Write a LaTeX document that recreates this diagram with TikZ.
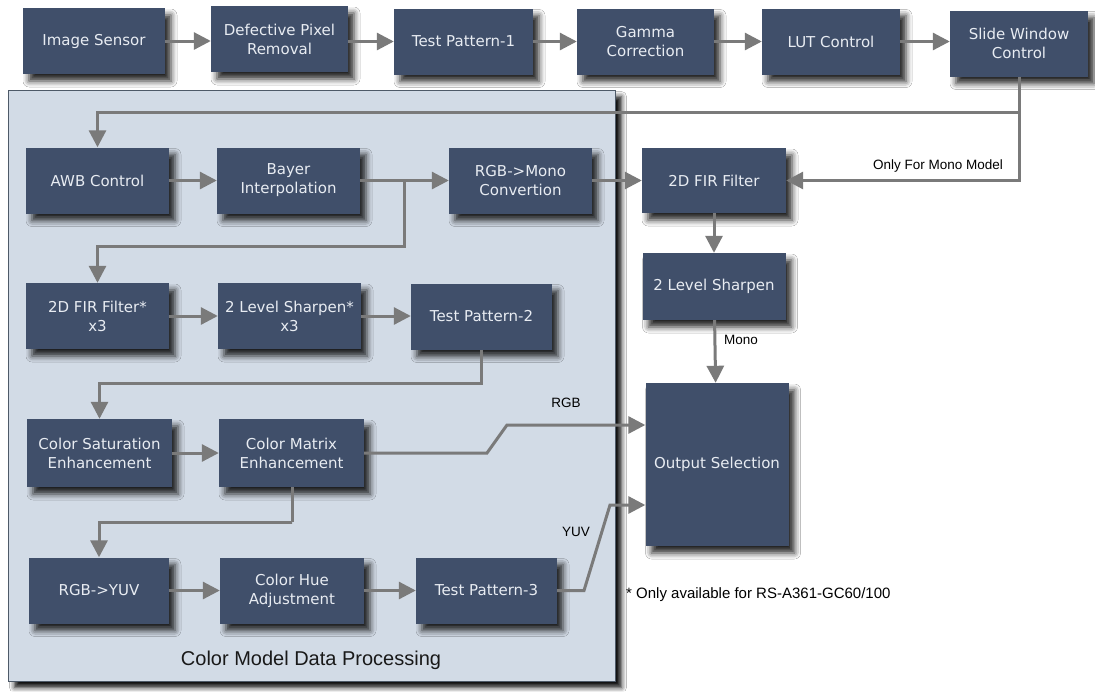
\documentclass[tikz,border=0pt]{standalone}
\usepackage{fontspec}
\setmainfont{DejaVu Sans}
\newfontfamily\labelfont{Liberation Sans}
\usetikzlibrary{arrows.meta,shadows.blur}
\definecolor{boxblue}{HTML}{404F6A}
\definecolor{boxtext}{HTML}{E8ECF2}
\definecolor{panelfill}{HTML}{D2DBE6}
\definecolor{panelline}{HTML}{4E5A68}
\definecolor{wiregray}{HTML}{7A7A7A}
\begin{document}
\begin{tikzpicture}[x=1pt,y=-1pt,
  block/.style={fill=boxblue, text=boxtext, minimum width=142pt, minimum height=66pt,
    align=center, inner sep=2pt, font=\fontsize{15}{19}\selectfont,
    blur shadow={shadow xshift=6pt, shadow yshift=-7pt, shadow blur radius=6pt, shadow opacity=85}},
  flow/.style={draw=wiregray, line width=3pt, -{Triangle[length=17pt,width=17pt]}},
  tag/.style={font=\labelfont\fontsize{13.5}{15}\selectfont, text=black, inner sep=0pt}]
\useasboundingbox (0,0) rectangle (1095,691);
\fill[white] (0,0) rectangle (1095,691);

% colour processing panel
\node[draw=panelline, line width=1pt, fill=panelfill, minimum width=607pt, minimum height=591pt,
  inner sep=0pt, anchor=north west,
  blur shadow={shadow xshift=6pt, shadow yshift=-6pt, shadow blur radius=5pt, shadow opacity=95}]
  (panel) at (8,90) {};
\node[font=\labelfont\fontsize{20}{24}\selectfont, text=black!90] (ptitle) at (311,660) {Color Model Data Processing};

% sensor pipeline
\node[block] (sensor) at (94,41) {Image Sensor};
\node[block, minimum width=137pt] (dpr) at (279.5,39) {Defective Pixel\\Removal};
\node[block, minimum width=139pt] (tp1) at (463.5,41.5) {Test Pattern-1};
\node[block, minimum width=137pt] (gamma) at (645.5,41.5) {Gamma\\Correction};
\node[block, minimum width=138pt] (lut) at (831,41.5) {LUT Control};
\node[block, minimum width=138pt] (swc) at (1019,43.5) {Slide Window\\Control};

% colour path
\node[block, minimum width=143pt] (awb) at (97.5,180.5) {AWB Control};
\node[block, minimum width=143pt] (bayer) at (288.5,180.5) {Bayer\\Interpolation};
\node[block, minimum width=143pt] (mono) at (520.5,180.5) {RGB->Mono\\Convertion};
\node[block, minimum width=143pt] (fir3) at (97.5,316) {2D FIR Filter*\\x3};
\node[block, minimum width=143pt] (sharp3) at (289.5,316) {2 Level Sharpen*\\x3};
\node[block, minimum width=141pt] (tp2) at (481.5,316.5) {Test Pattern-2};
\node[block, minimum width=145pt, minimum height=68pt] (csat) at (99.5,453) {Color Saturation\\Enhancement};
\node[block, minimum width=145pt, minimum height=68pt] (cmat) at (291.5,453) {Color Matrix\\Enhancement};
\node[block, minimum width=140pt] (yuv) at (99,590.5) {RGB->YUV};
\node[block, minimum width=144pt] (hue) at (292,590.5) {Color Hue\\Adjustment};
\node[block, minimum width=141pt] (tp3) at (486.5,590.5) {Test Pattern-3};

% mono path and output
\node[block, minimum width=144pt, minimum height=65pt] (fir) at (714,180.5) {2D FIR Filter};
\node[block, minimum width=143pt, minimum height=67pt] (sharp) at (714,286.5) {2 Level Sharpen};
\node[block, minimum width=143pt, minimum height=163pt] (out) at (717,464.5) {Output Selection};

% junctions and bends
\coordinate (j1) at (1019,112);
\coordinate (j2) at (404,180.5);
\coordinate (j3) at (404,246);
\coordinate (j4) at (481.5,383);
\coordinate (j5) at (292,522);
\coordinate (r1) at (487,453);
\coordinate (r2) at (507,425);
\coordinate (y1) at (584,590.5);
\coordinate (y2) at (610,505);

% connectors
\draw[flow] (sensor) -- (dpr.west |- sensor);
\draw[flow] (dpr.east |- tp1) -- (tp1);
\draw[flow] (tp1) -- (gamma);
\draw[flow] (gamma) -- (lut);
\draw[flow] (lut) -- (swc.west |- lut);
\draw[flow] (swc.south) -- (j1) -| (awb.north);
\draw[flow] (j1) |- (fir.east);
\draw[flow] (awb) -- (bayer);
\draw[flow] (bayer) -- (mono);
\draw[flow] (j2) -- (j3) -| (fir3.north);
\draw[flow] (mono) -- (fir);
\draw[flow] (fir) -- (sharp);
\draw[flow] (sharp) -- (out);
\draw[flow] (fir3) -- (sharp3);
\draw[flow] (sharp3) -- (tp2.west |- sharp3);
\draw[flow] (tp2.south) -- (j4) -| (csat.north);
\draw[flow] (csat) -- (cmat);
\draw[flow] (cmat.east) -- (r1) -- (r2) -- (r2 -| out.west);
\draw[flow] (cmat.south |- j5) -- (j5) -| (yuv.north);
\draw[line width=3pt, draw=wiregray] (cmat.south -| j5) -- (j5);
\draw[flow] (yuv) -- (hue);
\draw[flow] (hue) -- (tp3);
\draw[flow] (tp3.east) -- (y1) -- (y2) -- (y2 -| out.west);

% labels
\node[tag] (lmono) at (938,166) {Only For Mono Model};
\node[tag] (lm) at (741,340) {Mono};
\node[tag] (lrgb) at (566,403) {RGB};
\node[tag] (lyuv) at (576,532) {YUV};
\node[font=\labelfont\fontsize{15}{18}\selectfont, anchor=west, inner sep=0pt] (note) at (626,595) {* Only available for RS-A361-GC60/100};
\end{tikzpicture}
\end{document}
